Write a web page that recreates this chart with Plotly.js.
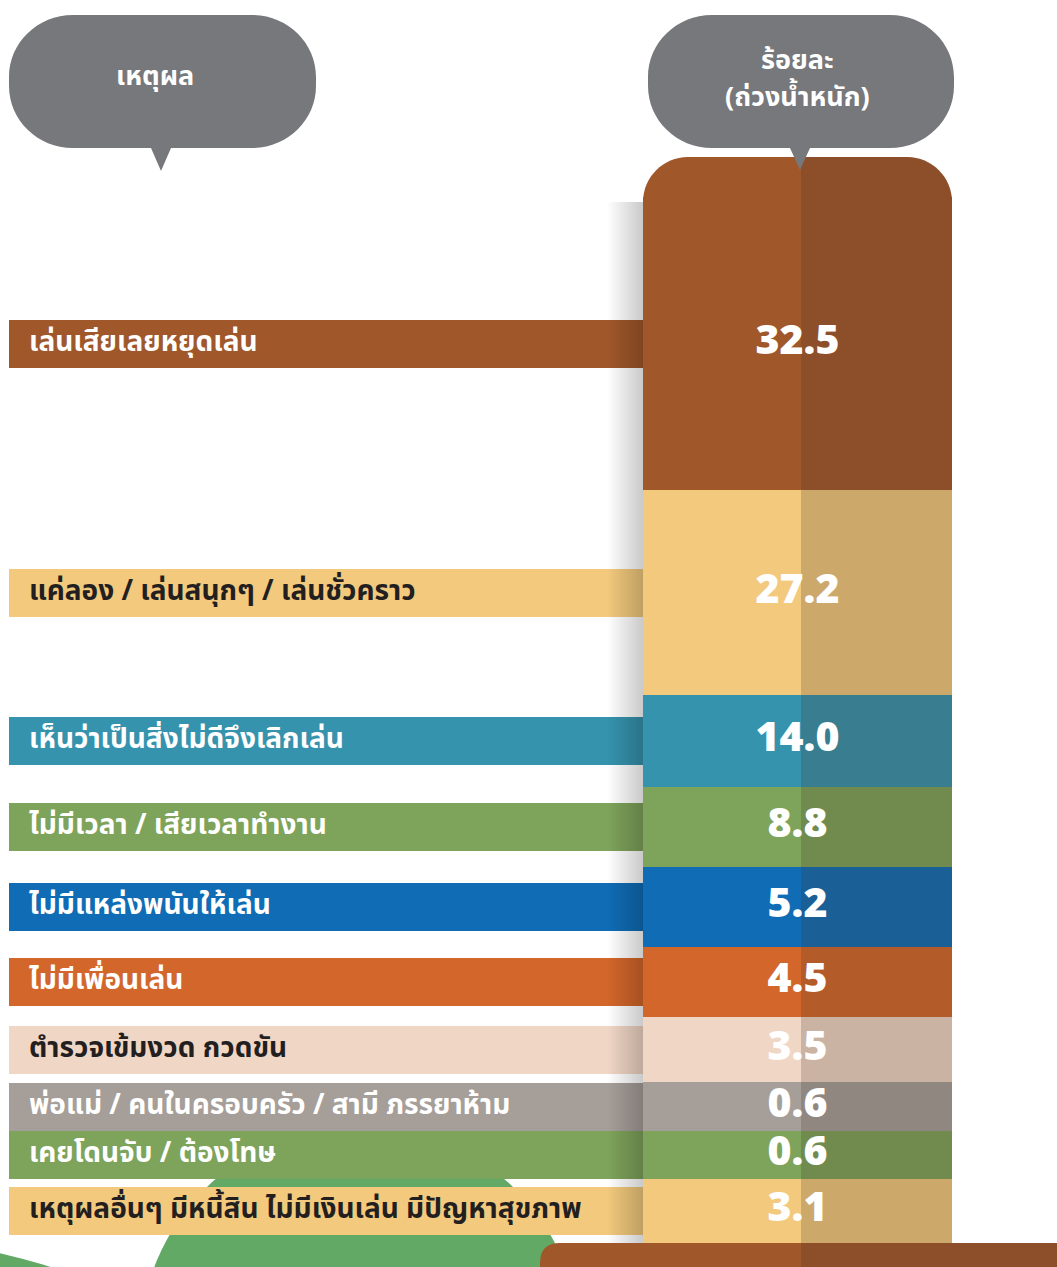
<!DOCTYPE html>
<html><head><meta charset="utf-8">
<script src="https://cdn.plot.ly/plotly-3.0.1.min.js"></script>
<style>html,body{margin:0;padding:0;background:#fff}#chart{width:1057px;height:1267px}</style>
</head><body><div id="chart"></div>
<script>
// ---------------- DATA ----------------
const reasons = [
  "เล่นเสียเลยหยุดเล่น",
  "แค่ลอง / เล่นสนุกๆ / เล่นชั่วคราว",
  "เห็นว่าเป็นสิ่งไม่ดีจึงเลิกเล่น",
  "ไม่มีเวลา / เสียเวลาทำงาน",
  "ไม่มีแหล่งพนันให้เล่น",
  "ไม่มีเพื่อนเล่น",
  "ตำรวจเข้มงวด กวดขัน",
  "พ่อแม่ / คนในครอบครัว / สามี ภรรยาห้าม",
  "เคยโดนจับ / ต้องโทษ",
  "เหตุผลอื่นๆ มีหนี้สิน ไม่มีเงินเล่น มีปัญหาสุขภาพ"
];
const percents = [32.5, 27.2, 14.0, 8.8, 5.2, 4.5, 3.5, 0.6, 0.6, 3.1];
const reasonHeader = "เหตุผล";
const percentHeader = ["ร้อยละ", "(ถ่วงน้ำหนัก)"];

// ---------------- STYLE ----------------
const fillColors = ["#A0572A", "#F2C97D", "#3593AD", "#7EA35A", "#0F6CB5",
                    "#D3662A", "#F0D6C5", "#A69E99", "#7EA35A", "#F2C97D"];
const dark = "#231F20";
const labelInk = ["#FFFFFF", dark, "#FFFFFF", "#FFFFFF", "#FFFFFF",
                  "#FFFFFF", dark, "#FFFFFF", "#FFFFFF", dark];
const shade = "rgba(70,55,40,0.22)";
const bubbleGray = "#77787B";
const treeGreen = "#62A966";
const thaiFont = "'Noto Sans Thai', 'Noto Sans', 'DejaVu Sans', sans-serif";

// ---------------- LAYOUT (pixel-space canvas) ----------------
const W = 1057, H = 1267;
const col = {x0: 643, x1: 952, split: 801, top: 157, cap: 40, r: 45};
const segmentPx = [293, 205, 92, 80, 80, 70, 65, 49, 48, 64]; // display spans of the infographic rows
const band = {x0: 9, h: 48, textX: 29};

const tops = [];
let acc = col.top + col.cap;
segmentPx.forEach(h => { tops.push(acc); acc += h; });
const colBottom = acc;
const centers = tops.map((t, i) => t + segmentPx[i] / 2);

const n = percents.length;
const rep = v => Array(n).fill(v);

const traces = [
  // left label bands
  {type: 'bar', orientation: 'h', y: centers, x: rep(col.x0 - band.x0), base: rep(band.x0),
   width: rep(band.h), marker: {color: fillColors, line: {width: 0}}, hoverinfo: 'skip'},
  // column full width
  {type: 'bar', x: rep((col.x0 + col.x1) / 2), y: segmentPx, base: tops, width: rep(col.x1 - col.x0),
   marker: {color: fillColors, line: {width: 0}}, hoverinfo: 'skip'},
  // right-half shade
  {type: 'bar', x: rep((col.split + col.x1) / 2), y: segmentPx, base: tops, width: rep(col.x1 - col.split),
   marker: {color: rep(shade), line: {width: 0}}, hoverinfo: 'skip'},
  // column drop shadow
  {type: 'scatter', mode: 'none', x: [col.x0 - 36, col.x0, col.x0, col.x0 - 36],
   y: [col.top + col.r, col.top + col.r, colBottom, colBottom], fill: 'toself',
   fillgradient: {type: 'horizontal', colorscale: [[0, 'rgba(0,0,0,0)'], [1, 'rgba(0,0,0,0.21)']]},
   hoverinfo: 'skip'},
  // reason labels
  {type: 'scatter', mode: 'text', x: rep(band.textX), y: centers, text: reasons,
   textposition: 'middle right', cliponaxis: false,
   textfont: {family: thaiFont, size: 28, color: labelInk, weight: 700}, hoverinfo: 'skip'},
  // percent values
  {type: 'scatter', mode: 'text', x: rep((col.x0 + col.x1) / 2), y: centers,
   text: percents.map(v => v.toFixed(1)), textposition: 'middle center', cliponaxis: false,
   textfont: {family: "'Open Sans', sans-serif", size: 41, color: '#FFFFFF', weight: 800}, hoverinfo: 'skip'}
];

const k = 0.5523;
function bubblePath(x0, y0, x1, y1, rx, ry, tipX, tipY, tipHalf) {
  return `M ${x0 + rx},${y0} L ${x1 - rx},${y0} ` +
    `C ${x1 - rx + k * rx},${y0} ${x1},${y0 + ry - k * ry} ${x1},${y0 + ry} ` +
    `L ${x1},${y1 - ry} C ${x1},${y1 - ry + k * ry} ${x1 - rx + k * rx},${y1} ${x1 - rx},${y1} ` +
    `L ${tipX + tipHalf},${y1} L ${tipX},${tipY} L ${tipX - tipHalf},${y1} ` +
    `L ${x0 + rx},${y1} C ${x0 + rx - k * rx},${y1} ${x0},${y1 - ry + k * ry} ${x0},${y1 - ry} ` +
    `L ${x0},${y0 + ry} C ${x0},${y0 + ry - k * ry} ${x0 + rx - k * rx},${y0} ${x0 + rx},${y0} Z`;
}
const R = col.r, capEnd = col.top + col.cap + 20;
const capLeft = `M ${col.x0},${capEnd} L ${col.x0},${col.top + R} C ${col.x0},${col.top + R - k * R} ${col.x0 + R - k * R},${col.top} ${col.x0 + R},${col.top} L ${col.split},${col.top} L ${col.split},${capEnd} Z`;
const capRight = `M ${col.split},${capEnd} L ${col.split},${col.top} L ${col.x1 - R},${col.top} C ${col.x1 - R + k * R},${col.top} ${col.x1},${col.top + R - k * R} ${col.x1},${col.top + R} L ${col.x1},${capEnd} Z`;
const baseR = 20, baseX = 540, baseTop = colBottom;
const basePath = `M ${baseX + baseR},${baseTop} L ${W + 5},${baseTop} L ${W + 5},${H + 5} L ${baseX},${H + 5} L ${baseX},${baseTop + baseR} Q ${baseX},${baseTop} ${baseX + baseR},${baseTop} Z`;

const shapes = [
  // tree crown & ground (decoration)
  {type: 'circle', layer: 'below', xref: 'x', yref: 'y', x0: 140, x1: 580, y0: 1125, y1: 1565,
   fillcolor: treeGreen, line: {width: 0}},
  {type: 'circle', layer: 'below', xref: 'x', yref: 'y', x0: -814, x1: 514, y0: 1236, y1: 2564,
   fillcolor: treeGreen, line: {width: 0}},
  // base plate
  {type: 'path', layer: 'below', path: basePath, fillcolor: fillColors[0], line: {width: 0}},
  {type: 'rect', layer: 'below', x0: col.split, x1: W + 5, y0: baseTop, y1: H + 5, fillcolor: shade, line: {width: 0}},
  // column cap
  {type: 'path', layer: 'below', path: capLeft, fillcolor: fillColors[0], line: {width: 0}},
  {type: 'path', layer: 'below', path: capRight, fillcolor: fillColors[0], line: {width: 0}},
  {type: 'path', layer: 'below', path: capRight, fillcolor: shade, line: {width: 0}},
  // speech bubbles
  {type: 'path', layer: 'above', path: bubblePath(9, 15, 316, 148, 64, 62, 161, 171, 10), fillcolor: bubbleGray, line: {width: 0}},
  {type: 'path', layer: 'above', path: bubblePath(648, 15, 954, 148, 64, 62, 800, 170, 10), fillcolor: bubbleGray, line: {width: 0}}
];

const headFont = {family: thaiFont, size: 27, color: '#FFFFFF', weight: 700};
const annotations = [
  {x: 155, y: 76, xref: 'x', yref: 'y', text: reasonHeader, showarrow: false, font: headFont},
  {x: 797, y: 60, xref: 'x', yref: 'y', text: percentHeader[0], showarrow: false, font: headFont},
  {x: 797, y: 97, xref: 'x', yref: 'y', text: percentHeader[1], showarrow: false, font: headFont}
];

const layout = {
  width: W, height: H, margin: {l: 0, r: 0, t: 0, b: 0},
  paper_bgcolor: '#FFFFFF', plot_bgcolor: '#FFFFFF',
  showlegend: false, barmode: 'overlay', bargap: 0,
  xaxis: {range: [0, W], visible: false, fixedrange: true},
  yaxis: {range: [H, 0], visible: false, fixedrange: true},
  shapes: shapes, annotations: annotations
};

Plotly.newPlot('chart', traces, layout, {staticPlot: true, displayModeBar: false});
</script>
</body></html>
